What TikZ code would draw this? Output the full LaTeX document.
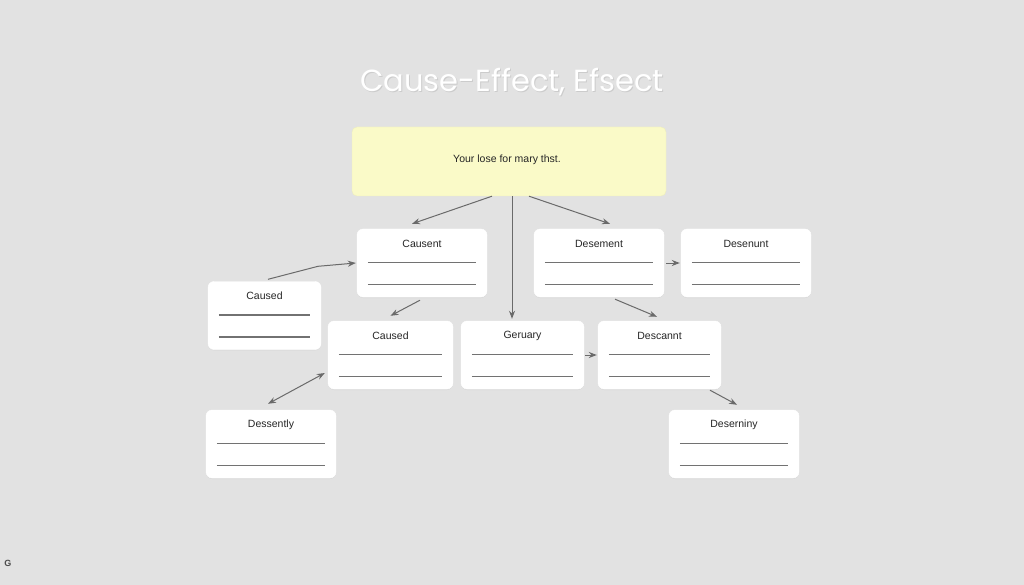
\documentclass[tikz,border=0pt]{standalone}
\usepackage{fontspec}
\setmainfont{Liberation Sans}
\newfontfamily\titlefont{Poppins}
\usetikzlibrary{arrows.meta,shadows,calc}
\definecolor{bg}{HTML}{E2E2E2}
\definecolor{note}{HTML}{FAFAC8}
\definecolor{linegray}{HTML}{727272}
\definecolor{arrowgray}{HTML}{6A6A6A}
\tikzset{
  card/.style={draw=white, fill=white, rounded corners=6pt, inner sep=0pt,
    drop shadow={shadow xshift=0pt, shadow yshift=-1pt, opacity=0.08}},
  cardtitle/.style={font=\fontsize{10.5}{12}\selectfont, text=black!85, inner sep=0pt},
  headline/.style={font=\titlefont\fontsize{30.5}{34}\selectfont, inner sep=0pt},
  rule/.style={draw=linegray, line width=1.3pt},
  conn/.style={draw=arrowgray, line width=1pt, -{Stealth[length=8pt,width=6pt]}},
  biconn/.style={draw=arrowgray, line width=1pt, {Stealth[length=8pt,width=6pt]}-{Stealth[length=8pt,width=6pt]}},
}
\newcommand\mkcard[5]{%
  \node[card, minimum width=#4pt, minimum height=68pt] (#1) at (#2,#3) {};
  \node[cardtitle] (#1-t) at ([yshift=19.5pt]#1.center) {#5};
  \draw[rule] ([xshift=11pt,yshift=0.5pt]#1.west) -- ([xshift=-11pt,yshift=0.5pt]#1.east);
  \draw[rule] ([xshift=11pt,yshift=-21.5pt]#1.west) -- ([xshift=-11pt,yshift=-21.5pt]#1.east);
}
\begin{document}
\begin{tikzpicture}[x=1pt,y=-1pt]
\fill[bg] (0,0) rectangle (1024,585);
\useasboundingbox (0,0) rectangle (1024,585);
% title
\node[headline, text=black!20] (titleshadow) at (513,83.5) {Cause-Effect, Efsect};
\node[headline, text=white] (title) at (512,82) {Cause-Effect, Efsect};
% top note
\node[draw=black!5!note, fill=note, rounded corners=5pt, minimum width=314pt, minimum height=69pt, inner sep=0pt] (top) at (509,161.5) {};
\node[cardtitle] (top-t) at (507,159.5) {Your lose for mary thst.};
% cards
\mkcard{causent}{422}{263}{130}{Causent}
\mkcard{causedl}{264.5}{315.5}{113}{Caused}
\mkcard{causedm}{390.5}{355}{125}{Caused}
\mkcard{geruary}{522.5}{355}{123}{Geruary}
\mkcard{desement}{599}{263}{130}{Desement}
\mkcard{desenunt}{746}{263}{130}{Desenunt}
\mkcard{descannt}{659.5}{355}{123}{Descannt}
\mkcard{dessently}{271}{444}{130}{Dessently}
\mkcard{deserniny}{734}{444}{130}{Deserniny}
% connectors
\draw[conn] ([xshift=-17pt]top.south) -- ([xshift=-10pt,yshift=5pt]causent.north);
\draw[conn] ([xshift=3pt]top.south) -- ([xshift=-10.5pt,yshift=2pt]geruary.north);
\draw[conn] ([xshift=20pt]top.south) -- ([xshift=11pt,yshift=5pt]desement.north);
\draw[conn] ([xshift=3.5pt,yshift=2pt]causedl.north) -- ++(50,-13) -- ([xshift=-1pt]causent.west);
\draw[conn] ([xshift=-2pt,yshift=-3pt]causent.south) -- ([yshift=5pt]causedm.north);
\draw[conn] ([xshift=2pt]desement.east) -- ([xshift=-1pt]desenunt.west);
\draw[conn] ([xshift=16pt,yshift=-2pt]desement.south) -- ([xshift=-2.5pt,yshift=4pt]descannt.north);
\draw[conn] ([xshift=1pt]geruary.east) -- ([xshift=-1pt]descannt.west);
\draw[biconn] ([xshift=-3pt,yshift=6pt]dessently.north) -- ([xshift=-3pt,yshift=-18pt]causedm.west);
\draw[conn] ([xshift=50.5pt,yshift=-1pt]descannt.south) -- ([xshift=3pt,yshift=5pt]deserniny.north);
% corner mark
\node[font=\bfseries\fontsize{9}{10}\selectfont, text=black!70, inner sep=0pt] (mark) at (8,563) {G};
\end{tikzpicture}
\end{document}
